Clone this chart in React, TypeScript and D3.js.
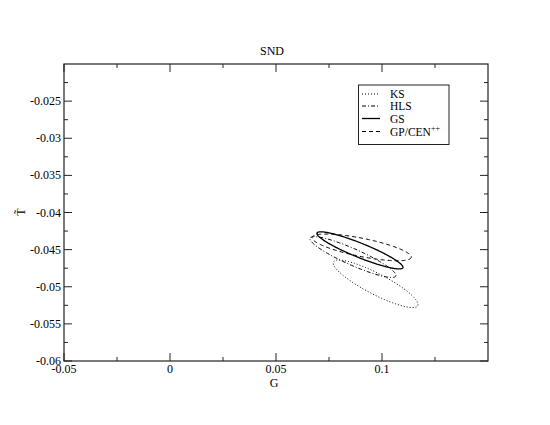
import { useEffect, useRef } from 'react';
import * as d3 from 'd3';

// confidence ellipses: center, sigma along each axis, correlation
const seriesNames = ['KS', 'HLS', 'GS', 'GP/CEN'];
const centerG = [0.097, 0.0863, 0.0896, 0.0904];
const centerT = [-0.0496, -0.046, -0.0451, -0.0447];
const sigmaG = [0.02, 0.0203, 0.0203, 0.0234];
const sigmaT = [0.0032, 0.00275, 0.0025, 0.0018];
const corr = [-0.87, -0.9, -0.91, -0.72];
const dashes = ['1,2', '4,2,1,2', null, '4,3'];

const xTicks = [-0.05, 0, 0.05, 0.1];
const xMinor = [-0.025, 0.025, 0.075, 0.125];
const yTicks = [-0.06, -0.055, -0.05, -0.045, -0.04, -0.035, -0.03, -0.025];
const yMinor = [-0.0575, -0.0525, -0.0475, -0.0425, -0.0375, -0.0325, -0.0275, -0.0225];
const legendY = [94, 106, 118.5, 131.5];

export default function App() {
  const chartRef = useRef(null);

  useEffect(() => {
    const svg = d3.select(chartRef.current);
    svg.selectAll('*').remove();

    const left = 64, right = 488, top = 64, bottom = 361;
    const x = d3.scaleLinear().domain([-0.05, 0.15]).range([left, right]);
    const y = d3.scaleLinear().domain([-0.06, -0.02]).range([bottom, top]);
    const font = 'Liberation Serif, Times New Roman, serif';
    const ink = '#222';

    svg.append('rect')
      .attr('x', left).attr('y', top)
      .attr('width', right - left).attr('height', bottom - top)
      .attr('fill', 'none').attr('stroke', ink).attr('stroke-width', 1.2);

    const tick = (v, len, horiz) => {
      if (horiz) {
        svg.append('line').attr('x1', x(v)).attr('x2', x(v)).attr('y1', bottom).attr('y2', bottom - len)
          .attr('stroke', ink);
        svg.append('line').attr('x1', x(v)).attr('x2', x(v)).attr('y1', top).attr('y2', top + len)
          .attr('stroke', ink);
      } else {
        svg.append('line').attr('x1', left).attr('x2', left + len).attr('y1', y(v)).attr('y2', y(v))
          .attr('stroke', ink);
        svg.append('line').attr('x1', right).attr('x2', right - len).attr('y1', y(v)).attr('y2', y(v))
          .attr('stroke', ink);
      }
    };
    xTicks.forEach(v => tick(v, 8, true));
    xMinor.forEach(v => tick(v, 4, true));
    yTicks.forEach(v => tick(v, 8, false));
    yMinor.forEach(v => tick(v, 4, false));

    svg.selectAll('.xl').data(xTicks).enter().append('text')
      .attr('x', d => x(d)).attr('y', 373)
      .attr('text-anchor', 'middle').attr('font-family', font).attr('font-size', 12)
      .text(d => String(d));
    svg.selectAll('.yl').data(yTicks).enter().append('text')
      .attr('x', 61).attr('y', d => y(d) + 4)
      .attr('text-anchor', 'end').attr('font-family', font).attr('font-size', 12)
      .text(d => String(d));

    svg.append('text').attr('x', 274).attr('y', 387).attr('text-anchor', 'middle')
      .attr('font-family', font).attr('font-size', 12).text('G');
    svg.append('text').attr('x', 272).attr('y', 55).attr('text-anchor', 'middle')
      .attr('font-family', font).attr('font-size', 12).text('SND');
    svg.append('text').attr('transform', 'translate(25,212) rotate(-90)').attr('text-anchor', 'middle')
      .attr('font-family', font).attr('font-size', 12).text('T\u0303');

    const angles = d3.range(0, 360, 2).map(a => a * Math.PI / 180);
    const line = d3.line().curve(d3.curveLinearClosed);
    seriesNames.forEach((name, i) => {
      const phi = Math.acos(corr[i]);
      const pts = angles.map(t => [
        x(centerG[i] + sigmaG[i] * Math.cos(t)),
        y(centerT[i] + sigmaT[i] * Math.cos(t + phi)),
      ]);
      svg.append('path').attr('d', line(pts))
        .attr('fill', 'none').attr('stroke', '#000').attr('stroke-width', dashes[i] ? 1 : 1.3)
        .attr('stroke-dasharray', dashes[i]);
    });

    // legend
    svg.append('rect').attr('x', 358.5).attr('y', 85).attr('width', 90.5).attr('height', 59.5)
      .attr('fill', 'white').attr('stroke', ink);
    seriesNames.forEach((name, i) => {
      svg.append('line').attr('x1', 362).attr('x2', 380).attr('y1', legendY[i]).attr('y2', legendY[i])
        .attr('stroke', '#000').attr('stroke-width', dashes[i] ? 1 : 1.3)
        .attr('stroke-dasharray', dashes[i]);
      const t = svg.append('text').attr('x', 390).attr('y', legendY[i] + 4)
        .attr('font-family', font).attr('font-size', 11.5).text(name);
      if (name === 'GP/CEN') {
        t.append('tspan').attr('dy', -5).attr('font-size', 8).text('++');
      }
    });
  }, []);

  return <svg ref={chartRef} width="550" height="425" style={{ display: 'block', margin: '-8px' }}></svg>;
}
